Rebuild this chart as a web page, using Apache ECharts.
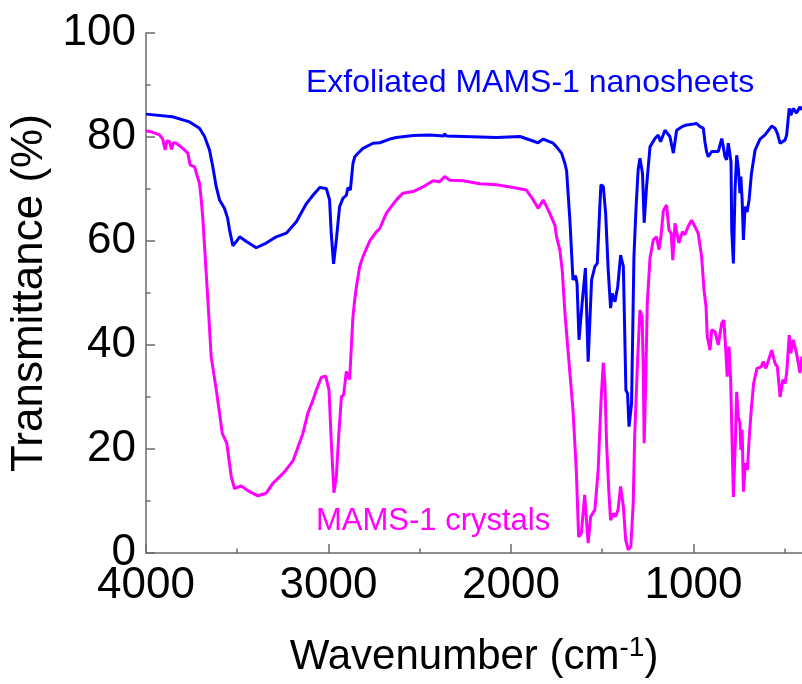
<!DOCTYPE html>
<html>
<head>
<meta charset="utf-8">
<script src="https://cdn.jsdelivr.net/npm/echarts@6/dist/echarts.min.js"></script>
<style>
  html, body { margin: 0; padding: 0; background: #fff; }
  #main { width: 802px; height: 684px; }
</style>
</head>
<body>
<div id="main"></div>
<script>
// FTIR spectra, [wavenumber, transmittance %]
const nanosheets = [
  [4000,84.4],[3855,83.9],[3761,82.9],[3707,81.7],[3679,80.1],[3652,77.5],[3634,74.3],[3615,70.4],
  [3597,67.9],[3570,66.3],[3553,64.4],[3542,62.1],[3524,59.1],[3505,59.9],[3487,60.8],[3450,59.9],
  [3396,58.7],[3341,59.6],[3286,60.8],[3231,61.5],[3176,63.7],[3121,67.2],[3085,68.8],[3048,70.3],
  [3012,70.1],[2994,67.9],[2985,61.5],[2972,55.6],[2957,60.2],[2939,66.6],[2921,68.2],[2902,68.8],
  [2893,70.3],[2880,69.8],[2866,74.9],[2856,76.2],[2829,77.2],[2811,77.8],[2756,78.8],[2719,78.9],
  [2664,79.6],[2628,79.9],[2536,80.3],[2445,80.4],[2370,80.2],[2363,80.6],[2355,80.2],[2262,80.1],
  [2079,79.9],[1951,80.1],[1851,78.9],[1823,79.6],[1769,78.8],[1750,78.1],[1723,76.9],[1705,75],
  [1695,73.5],[1677,64],[1660,52.5],[1646,53.3],[1638,51.9],[1627,41],[1610,48],[1592,54.8],
  [1577,36.8],[1558,52.5],[1540,55.1],[1527,55.7],[1513,66.6],[1507,70.8],[1494,70.5],[1481,65.3],
  [1467,54.4],[1454,47.1],[1445,49.9],[1430,48.3],[1415,51.2],[1399,57.3],[1384,55.1],[1370,31.3],
  [1361,30.7],[1353,24.3],[1339,28.8],[1326,57],[1315,66],[1303,73.7],[1293,75.9],[1279,73],
  [1270,63.5],[1257,70.4],[1238,78.1],[1211,79.7],[1193,80.4],[1180,79.1],[1156,81.3],[1129,80.1],
  [1110,76.9],[1092,81.3],[1056,82.1],[1037,82.3],[1000,82.5],[982,82.6],[964,82],[946,81.7],
  [937,79.1],[928,77.2],[919,76.2],[909,75.9],[900,77.2],[864,77.2],[845,79.7],[836,78.1],
  [827,76.2],[818,75.6],[809,78.8],[805,78.5],[794,75.2],[790,62],[781,55.7],[772,69.8],
  [763,76.5],[754,74],[745,69.2],[740,72.4],[733,67.9],[726,60.2],[717,66.6],[706,65.6],
  [695,67.9],[682,73],[662,77.5],[635,79.6],[608,80.4],[571,82.1],[553,81.7],[540,80.7],
  [525,78.8],[498,79.4],[489,80.4],[475,85.5],[466,84.2],[453,85.5],[435,84.6],[416,85.8],[405,85.2]
];

const crystals = [
  [4000,81.2],[3963,80.9],[3926,80.4],[3908,79.6],[3895,77.5],[3885,79.3],[3871,79.1],[3860,77.6],
  [3850,78.9],[3834,78.8],[3798,77.8],[3771,76.9],[3758,74.6],[3734,74.3],[3721,72.7],[3707,71.1],
  [3697,67.9],[3688,64],[3661,48.7],[3643,37.8],[3612,30.7],[3582,23],[3557,21.1],[3533,14.7],
  [3515,12.4],[3478,12.9],[3432,11.8],[3387,11],[3341,11.5],[3305,13.4],[3241,15.6],[3195,17.7],
  [3140,23],[3113,26.9],[3085,29.4],[3067,31.3],[3039,33.8],[3015,34],[2997,31.3],[2985,21.7],
  [2970,11.6],[2957,14.7],[2943,23],[2929,30.1],[2917,30.4],[2902,34.9],[2884,33.4],[2866,45.4],
  [2856,48.7],[2847,51.2],[2829,55.1],[2811,57],[2774,60],[2737,61.8],[2719,62.4],[2682,65.4],
  [2628,67.9],[2592,69.2],[2536,69.5],[2482,70.4],[2427,71.6],[2390,71.4],[2363,72.4],[2335,71.7],
  [2262,71.6],[2171,71],[2079,70.8],[1988,70.3],[1915,69.8],[1878,67.9],[1851,66.3],[1823,67.9],
  [1787,65.3],[1759,63],[1750,60.8],[1732,58.3],[1719,54.4],[1704,46.1],[1686,38.4],[1660,27.5],
  [1642,16],[1629,3.1],[1614,3.8],[1596,11.2],[1577,1.9],[1563,7],[1540,8.3],[1522,16],
  [1507,28.8],[1494,36.6],[1485,32.6],[1476,21.1],[1464,12.1],[1454,6.3],[1440,7.6],[1427,7],
  [1413,8.3],[1399,12.8],[1384,8.9],[1371,2.5],[1357,0.6],[1343,1.2],[1330,9.6],[1322,22.4],
  [1306,37.1],[1293,46.7],[1281,45.4],[1275,35.2],[1270,21.1],[1262,32],[1253,48],[1238,56.7],
  [1220,60.2],[1202,60.8],[1189,58.3],[1178,60.8],[1165,65.8],[1147,66.9],[1134,62.1],[1122,61.5],
  [1113,56.3],[1101,63.4],[1092,63.7],[1080,59.6],[1060,61.8],[1047,61.2],[1029,62.8],[1010,64],
  [992,62.8],[974,61.5],[955,57],[942,50.6],[931,47.4],[924,41.6],[909,39],[900,42.9],
  [882,42.6],[864,40],[845,44.2],[833,44.8],[824,39.7],[815,33.9],[805,39.7],[796,33.3],
  [781,10.8],[770,21.7],[763,31],[754,26.2],[745,24.9],[740,19.8],[733,23.7],[726,11.8],
  [715,17.3],[704,16],[695,21.7],[682,28.1],[670,32.6],[652,35.5],[629,35.8],[617,36.8],
  [603,35.5],[571,39],[553,36.5],[540,35.8],[525,30],[510,33.3],[498,32.6],[489,34.6],
  [475,41.9],[466,38.4],[453,41],[435,38.4],[416,34.6],[405,37.8]
];

const majorTicks = [4000, 3000, 2000, 1000];
const minorTicks = [3500, 2500, 1500, 500];

const myChart = echarts.init(document.getElementById('main'));

const font = 'Liberation Sans, Arial, sans-serif';
const axisGray = '#6b6b6b';

const option = {
  animation: false,
  grid: { left: 146, right: 0, top: 33, bottom: 131, containLabel: false, outerBoundsMode: 'none' },
  xAxis: [
    {
      type: 'value',
      min: 405,
      max: 4000,
      inverse: true,
      name: '{t|Wavenumber (cm}{s|-1}{t|)}',
      nameLocation: 'middle',
      nameGap: 81,
      nameTextStyle: {
        rich: {
          t: { fontSize: 42, fontFamily: font, color: '#000', lineHeight: 46 },
          s: { fontSize: 28, fontFamily: font, color: '#000', verticalAlign: 'top', lineHeight: 46, padding: [0, 0, 22, 0] }
        }
      },
      axisLine: { lineStyle: { color: axisGray, width: 1.5 } },
      axisTick: { inside: true, length: 9, customValues: majorTicks, lineStyle: { color: axisGray, width: 1.5 } },
      axisLabel: {
        customValues: majorTicks,
        formatter: (v) => String(v),
        fontSize: 44, fontFamily: font, color: '#000', margin: 11
      },
      splitLine: { show: false }
    },
    {
      type: 'value',
      min: 405,
      max: 4000,
      inverse: true,
      position: 'bottom',
      axisLine: { show: false },
      axisTick: { inside: true, length: 4.5, customValues: minorTicks, lineStyle: { color: axisGray, width: 1.5 } },
      axisLabel: { show: false },
      splitLine: { show: false }
    }
  ],
  yAxis: {
    type: 'value',
    min: 0,
    max: 100,
    interval: 20,
    name: 'Transmittance (%)',
    nameLocation: 'middle',
    nameGap: 88,
    nameTextStyle: { fontSize: 44, fontFamily: font, color: '#000' },
    axisLine: { show: true, lineStyle: { color: axisGray, width: 1.5 } },
    axisTick: { show: true, inside: true, length: 9, lineStyle: { color: axisGray, width: 1.5 } },
    minorTick: { show: true, splitNumber: 2, length: 4.5, lineStyle: { color: axisGray, width: 1.5 } },
    axisLabel: { fontSize: 44, fontFamily: font, color: '#000', margin: 10 },
    splitLine: { show: false }
  },
  series: [
    {
      name: 'Exfoliated MAMS-1 nanosheets',
      type: 'line',
      data: nanosheets,
      showSymbol: false,
      lineStyle: { color: '#0000ff', width: 3 },
      clip: true
    },
    {
      name: 'MAMS-1 crystals',
      type: 'line',
      data: crystals,
      showSymbol: false,
      lineStyle: { color: '#ff00ff', width: 3 },
      clip: true
    }
  ],
  graphic: [
    {
      type: 'text',
      left: 306,
      top: 67,
      style: { text: 'Exfoliated MAMS-1 nanosheets', fill: '#0000ff', font: '32px ' + font }
    },
    {
      type: 'text',
      left: 316,
      top: 506,
      style: { text: 'MAMS-1 crystals', fill: '#ff00ff', font: '31px ' + font }
    }
  ]
};

myChart.setOption(option);
</script>
</body>
</html>
